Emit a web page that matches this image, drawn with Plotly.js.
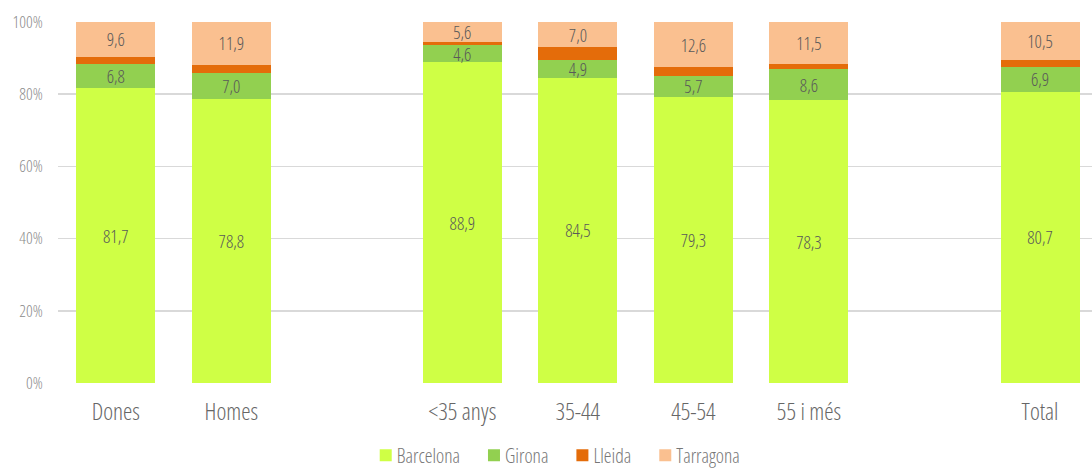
<!DOCTYPE html>
<html>
<head>
<meta charset="utf-8">
<script src="https://cdn.plot.ly/plotly-3.0.1.min.js"></script>
<style>
html,body{margin:0;padding:0;background:#fff;}
#chart{width:1092px;height:469px;}
text{font-stretch:condensed;}
#chart .legend .scrollbox{transform:translate(0px,6px);}
#chart .legend .legendpoints{transform:translate(9px,0px);}
</style>
</head>
<body>
<div id="chart"></div>
<script>
var categories = ["Dones", "Homes", " ", "<35 anys", "35-44", "45-54", "55 i més", "  ", "Total"];
var barcelona = [81.7, 78.8, null, 88.9, 84.5, 79.3, 78.3, null, 80.7];
var girona    = [6.8, 7.0, null, 4.6, 4.9, 5.7, 8.6, null, 6.9];
var lleida    = [1.9, 2.3, null, 0.9, 3.6, 2.4, 1.6, null, 1.9];
var tarragona = [9.6, 11.9, null, 5.6, 7.0, 12.6, 11.5, null, 10.5];
var seriesNames = ["Barcelona", "Girona", "Lleida", "Tarragona"];
var colors = ["#CFFF45", "#92D050", "#E46C0A", "#FAC090"];
var showLabels = [true, true, false, true];
var yTickVals = [0, 20, 40, 60, 80, 100];
var yTickText = ["0%", "20%", "40%", "60%", "80%", "100%"];

var FONT = "Open Sans, sans-serif";
function fmt(v){ return v == null ? "" : v.toFixed(1).replace(".", ","); }

var all = [barcelona, girona, lleida, tarragona];
var traces = all.map(function(vals, i){
  return {
    type: "bar",
    name: seriesNames[i],
    x: categories,
    y: vals,
    marker: {color: colors[i]},
    text: showLabels[i] ? vals.map(fmt) : null,
    textposition: showLabels[i] ? "inside" : "none",
    insidetextanchor: "middle",
    constraintext: "none",
    textangle: 0,
    textfont: {family: FONT, size: 18, weight: 300, color: "#595959"},
    hoverinfo: "none"
  };
});

var layout = {
  width: 1092, height: 469,
  barmode: "stack",
  bargap: 0.316,
  margin: {l: 58, r: 0, t: 22, b: 86},
  paper_bgcolor: "#fff",
  plot_bgcolor: "#fff",
  font: {family: FONT, weight: 300},
  xaxis: {
    type: "category",
    categoryorder: "array",
    categoryarray: categories,
    range: [-0.5, 8.45],
    showgrid: false,
    showline: false,
    zeroline: false,
    automargin: false,
    ticks: "outside", ticklen: 8, tickcolor: "rgba(0,0,0,0)",
    tickfont: {family: FONT, size: 23.5, weight: 300, color: "#666666"}
  },
  yaxis: {
    range: [0, 100],
    tickmode: "array",
    tickvals: yTickVals,
    ticktext: yTickText,
    showgrid: true,
    gridcolor: "#D9D9D9",
    gridwidth: 1.5,
    zeroline: false,
    showline: false,
    automargin: false,
    ticks: "outside", ticklen: 11, tickcolor: "rgba(0,0,0,0)",
    tickfont: {family: FONT, size: 16.5, weight: 300, color: "#8C8C8C"}
  },
  showlegend: true,
  legend: {
    orientation: "h",
    x: 0.477, xanchor: "center",
    yref: "container",
    y: 0, yanchor: "bottom",
    font: {family: FONT, size: 19.5, weight: 300, color: "#777777"},
    traceorder: "normal"
  }
};

Plotly.newPlot("chart", traces, layout, {displayModeBar: false, staticPlot: true});
</script>
</body>
</html>
